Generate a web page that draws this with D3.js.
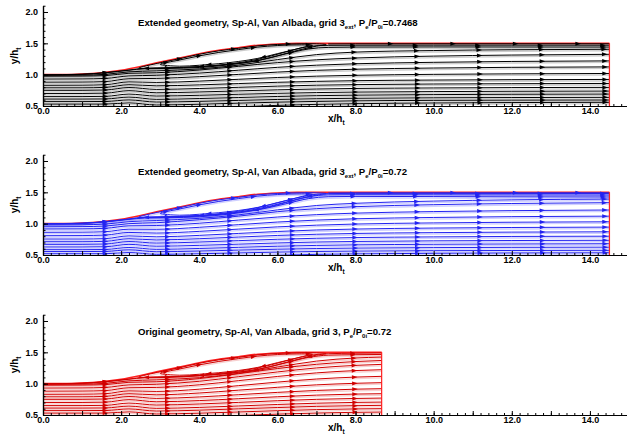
<!DOCTYPE html>
<html>
<head>
<meta charset="utf-8">
<script src="https://cdn.jsdelivr.net/npm/d3@7"></script>
<style>
  body { margin: 0; background: #fff; }
  text { font-family: "Liberation Sans", Arial, sans-serif; font-weight: bold; fill: #000; }
</style>
</head>
<body>
<svg id="chart" width="627" height="435"></svg>
<script>
// ---- axes ----
const xMajor = [0, 1, 2, 3, 4, 5, 6, 7, 8, 9, 10, 11, 12, 13, 14, 15];
const xLabelled = [0, 2, 4, 6, 8, 10, 12, 14];
const yMajor = [0.5, 1.0, 1.5, 2.0];

// ---- nozzle wall (y/ht vs x/ht) ----
const wallX = [0, 0.5, 1, 1.5, 2, 2.5, 3, 3.5, 4, 4.5, 5, 5.5, 6, 6.5];
const wallY = [1.0, 1.0, 1.008, 1.03, 1.07, 1.13, 1.2, 1.265, 1.335, 1.39, 1.43, 1.47, 1.49, 1.5];

// ---- separation bubble loops ----
const bubX = [2.45, 3.0, 3.5, 4.0, 4.5, 5.0, 5.5, 6.0, 6.5, 7.0, 7.25, 7.0, 6.5, 6.0, 5.5, 5.0, 4.5, 4.0, 3.5, 3.0];
const bubY = [1.105, 1.19, 1.255, 1.325, 1.38, 1.42, 1.46, 1.482, 1.492, 1.492, 1.48, 1.455, 1.385, 1.3, 1.225, 1.18, 1.15, 1.13, 1.115, 1.108];
const bubInX = [3.0, 3.5, 4.0, 4.5, 5.0, 5.5, 6.0, 6.5, 6.9, 6.6, 6.0, 5.5, 5.0, 4.5, 4.0, 3.5];
const bubInY = [1.165, 1.235, 1.3, 1.355, 1.4, 1.44, 1.465, 1.475, 1.468, 1.425, 1.335, 1.26, 1.21, 1.175, 1.15, 1.135];

// ---- panel 1 : extended geometry, Pe/P0i = 0.7468 ----
const st1 = [0, 1.0, 1.6, 2.2, 2.9, 4, 5, 6, 7, 8, 10, 12, 14.5];
const lines1 = [
  [0.45, 0.45, 0.45, 0.465, 0.45, 0.466, 0.488, 0.51, 0.526, 0.537, 0.548, 0.555, 0.559],
  [0.53, 0.53, 0.53, 0.55, 0.516, 0.528, 0.545, 0.561, 0.573, 0.582, 0.59, 0.593, 0.595],
  [0.57, 0.57, 0.572, 0.597, 0.563, 0.574, 0.589, 0.604, 0.616, 0.623, 0.631, 0.635, 0.638],
  [0.61, 0.61, 0.612, 0.642, 0.606, 0.619, 0.635, 0.652, 0.665, 0.673, 0.682, 0.687, 0.69],
  [0.65, 0.65, 0.654, 0.69, 0.659, 0.671, 0.687, 0.702, 0.714, 0.722, 0.73, 0.735, 0.738],
  [0.70, 0.70, 0.705, 0.745, 0.711, 0.724, 0.741, 0.758, 0.771, 0.78, 0.788, 0.794, 0.797],
  [0.75, 0.75, 0.755, 0.795, 0.765, 0.779, 0.798, 0.817, 0.832, 0.841, 0.851, 0.856, 0.86],
  [0.79, 0.79, 0.797, 0.84, 0.822, 0.837, 0.858, 0.878, 0.893, 0.904, 0.914, 0.92, 0.924],
  [0.83, 0.832, 0.84, 0.885, 0.876, 0.897, 0.926, 0.955, 0.976, 0.99, 1.005, 1.013, 1.019],
  [0.88, 0.882, 0.89, 0.935, 0.94, 0.968, 1.004, 1.041, 1.069, 1.087, 1.106, 1.117, 1.124],
  [0.93, 0.932, 0.94, 0.98, 0.99, 1.025, 1.071, 1.117, 1.151, 1.174, 1.197, 1.211, 1.22],
  [0.976, 0.978, 0.985, 1.022, 1.03, 1.074, 1.133, 1.192, 1.237, 1.266, 1.296, 1.313, 1.325],
  [0.99, 0.993, 1.005, 1.045, 1.06, 1.092, 1.152, 1.24, 1.32, 1.36, 1.385, 1.398, 1.405]
];
const shearX1 = [0, 1, 1.6, 2.2, 2.6, 3.2, 4, 4.8, 5.5, 6.2, 6.8, 7.3, 8, 10, 12, 14.5];
const shear1 = [
  [0.995, 1.005, 1.03, 1.07, 1.095, 1.1, 1.115, 1.16, 1.225, 1.33, 1.41, 1.435, 1.44, 1.442, 1.441, 1.44],
  [0.998, 1.008, 1.033, 1.074, 1.102, 1.108, 1.125, 1.172, 1.245, 1.36, 1.45, 1.468, 1.47, 1.471, 1.471, 1.47]
];

// ---- panel 2 : extended geometry, Pe/P0i = 0.72 ----
const st2 = [0, 1.0, 1.6, 2.2, 2.9, 4, 5, 6, 7, 8, 10, 12, 14.5];
const lines2 = [
  [0.45, 0.45, 0.45, 0.465, 0.45, 0.463, 0.48, 0.497, 0.51, 0.518, 0.527, 0.532, 0.535],
  [0.52, 0.52, 0.52, 0.54, 0.51, 0.52, 0.533, 0.546, 0.556, 0.562, 0.569, 0.572, 0.575],
  [0.555, 0.555, 0.557, 0.582, 0.552, 0.563, 0.578, 0.592, 0.603, 0.61, 0.618, 0.622, 0.625],
  [0.585, 0.585, 0.588, 0.62, 0.59, 0.604, 0.622, 0.64, 0.653, 0.662, 0.671, 0.676, 0.68],
  [0.628, 0.628, 0.632, 0.67, 0.64, 0.654, 0.673, 0.692, 0.707, 0.716, 0.726, 0.731, 0.735],
  [0.67, 0.67, 0.675, 0.715, 0.69, 0.707, 0.729, 0.751, 0.767, 0.778, 0.789, 0.796, 0.8],
  [0.712, 0.712, 0.718, 0.76, 0.74, 0.76, 0.786, 0.812, 0.831, 0.844, 0.857, 0.865, 0.87],
  [0.755, 0.755, 0.762, 0.805, 0.79, 0.813, 0.844, 0.875, 0.899, 0.914, 0.93, 0.939, 0.945],
  [0.808, 0.81, 0.818, 0.86, 0.85, 0.877, 0.913, 0.949, 0.976, 0.994, 1.012, 1.023, 1.03],
  [0.862, 0.864, 0.872, 0.912, 0.91, 0.942, 0.984, 1.026, 1.057, 1.078, 1.099, 1.112, 1.12],
  [0.915, 0.917, 0.926, 0.965, 0.97, 1.007, 1.057, 1.106, 1.144, 1.168, 1.193, 1.208, 1.218],
  [0.95, 0.953, 0.962, 1.0, 1.015, 1.063, 1.12, 1.191, 1.239, 1.271, 1.303, 1.322, 1.335],
  [0.98, 0.983, 0.993, 1.032, 1.05, 1.085, 1.14, 1.22, 1.29, 1.325, 1.36, 1.38, 1.392]
];
const shearX2 = [0, 1, 1.6, 2.2, 2.6, 3.2, 4, 4.8, 5.5, 6.2, 6.8, 7.3, 8, 10, 12, 14.5];
const shear2 = [
  [0.993, 1.003, 1.028, 1.068, 1.09, 1.095, 1.11, 1.155, 1.22, 1.315, 1.4, 1.43, 1.435, 1.432, 1.428, 1.425],
  [0.996, 1.006, 1.031, 1.072, 1.098, 1.103, 1.12, 1.167, 1.238, 1.34, 1.43, 1.46, 1.462, 1.46, 1.458, 1.456],
  [0.999, 1.009, 1.034, 1.076, 1.105, 1.11, 1.13, 1.18, 1.255, 1.365, 1.455, 1.48, 1.483, 1.483, 1.482, 1.482]
];

// ---- panel 3 : original geometry, Pe/P0i = 0.72 ----
const st3 = [0, 1.0, 1.6, 2.2, 2.9, 4, 5, 6, 7, 8, 8.67];
const lines3 = [
  [0.46, 0.46, 0.46, 0.475, 0.46, 0.473, 0.493, 0.514, 0.531, 0.543, 0.547],
  [0.53, 0.53, 0.53, 0.55, 0.516, 0.529, 0.548, 0.569, 0.586, 0.597, 0.601],
  [0.57, 0.57, 0.572, 0.597, 0.563, 0.577, 0.598, 0.619, 0.638, 0.649, 0.654],
  [0.61, 0.61, 0.612, 0.642, 0.606, 0.621, 0.644, 0.668, 0.688, 0.701, 0.706],
  [0.65, 0.65, 0.654, 0.69, 0.659, 0.676, 0.701, 0.728, 0.75, 0.764, 0.77],
  [0.70, 0.70, 0.705, 0.745, 0.711, 0.73, 0.76, 0.791, 0.817, 0.834, 0.84],
  [0.75, 0.75, 0.755, 0.795, 0.765, 0.788, 0.824, 0.861, 0.892, 0.912, 0.92],
  [0.79, 0.79, 0.797, 0.84, 0.822, 0.851, 0.896, 0.942, 0.981, 1.006, 1.016],
  [0.83, 0.832, 0.84, 0.885, 0.876, 0.912, 0.968, 1.025, 1.074, 1.105, 1.117],
  [0.88, 0.882, 0.89, 0.935, 0.94, 0.982, 1.048, 1.115, 1.172, 1.209, 1.223],
  [0.93, 0.932, 0.94, 0.98, 0.99, 1.038, 1.111, 1.187, 1.251, 1.292, 1.308],
  [0.976, 0.978, 0.985, 1.022, 1.03, 1.081, 1.159, 1.241, 1.309, 1.353, 1.37],
  [0.99, 0.993, 1.005, 1.045, 1.06, 1.095, 1.165, 1.265, 1.36, 1.41, 1.424]
];
const shearX3 = [0, 1, 1.6, 2.2, 2.6, 3.2, 4, 4.8, 5.5, 6.2, 6.8, 7.3, 8, 8.67];
const shear3 = [
  [0.995, 1.005, 1.03, 1.07, 1.095, 1.1, 1.125, 1.17, 1.23, 1.33, 1.42, 1.455, 1.462, 1.466],
  [0.998, 1.008, 1.033, 1.074, 1.102, 1.108, 1.135, 1.183, 1.25, 1.36, 1.45, 1.478, 1.486, 1.49]
];

// near-wall streamline after reattachment (extended geometry)
const topX = [7.3, 8, 10, 12, 14.5];
const topY = [1.49, 1.492, 1.493, 1.493, 1.493];

const titles = [
  ["Extended geometry, Sp-Al, Van Albada, grid 3", "ext", ", P", "e", "/P", "0i", "=0.7468"],
  ["Extended geometry, Sp-Al, Van Albada, grid 3", "ext", ", P", "e", "/P", "0i", "=0.72"],
  ["Original geometry, Sp-Al, Van Albada, grid 3", "", ", P", "e", "/P", "0i", "=0.72"]
];

const panels = [
  { bottom: 106, color: "#000", light: "#9a9a9a", outlet: 14.5, st: st1, lines: lines1, shearX: shearX1, shear: shear1, title: titles[0] },
  { bottom: 255, color: "#2323f0", light: "#a0a0ff", outlet: 14.5, st: st2, lines: lines2, shearX: shearX2, shear: shear2, title: titles[1] },
  { bottom: 415, color: "#d00000", light: "#f0a0a0", outlet: 8.67, st: st3, lines: lines3, shearX: shearX3, shear: shear3, title: titles[2] }
];

const svg = d3.select("#chart");
const pxPerUnit = 62.67;
const x = d3.scaleLinear().domain([0, 15]).range([43, 629]);

panels.forEach((p, pi) => {
  const y = d3.scaleLinear().domain([0.5, 2.1]).range([p.bottom, p.bottom - 1.6 * pxPerUnit]);
  const g = svg.append("g");

  // clip to plot area
  const clipId = "clip" + pi;
  svg.append("clipPath").attr("id", clipId).append("rect")
    .attr("x", x(0)).attr("y", y(2.1))
    .attr("width", x(p.outlet) - x(0) + 1).attr("height", y(0.5) - y(2.1));
  const plot = g.append("g").attr("clip-path", `url(#${clipId})`);

  const line = d3.line().x(d => x(d[0])).y(d => y(d[1])).curve(d3.curveMonotoneX);
  const loop = d3.line().x(d => x(d[0])).y(d => y(d[1])).curve(d3.curveCatmullRomClosed);

  // geometry (red)
  const wallPts = wallX.map((v, i) => [v, wallY[i]]).concat([[p.outlet, 1.5]]);
  plot.append("path").attr("d", line(wallPts))
    .attr("fill", "none").attr("stroke", "#ff2020").attr("stroke-width", 1.6);

  const paths = [];
  p.lines.forEach(ys => paths.push(line(p.st.map((s, i) => [s, ys[i]]))));
  p.shear.forEach(ys => paths.push(line(p.shearX.map((s, i) => [s, ys[i]]))));
  if (p.outlet > 9) paths.push(line(topX.map((v, i) => [v, topY[i]])));
  const loops = [
    loop(bubX.map((v, i) => [v, bubY[i]])),
    loop(bubInX.map((v, i) => [v, bubInY[i]]))
  ];

  // light antialias bands beside each line
  paths.concat(loops).forEach(d => {
    plot.append("path").attr("d", d).attr("fill", "none")
      .attr("stroke", p.light).attr("stroke-width", 1.4).attr("opacity", 0.5)
      .attr("transform", "translate(0,1.5)");
  });
  paths.concat(loops).forEach(d => {
    plot.append("path").attr("d", d).attr("fill", "none")
      .attr("stroke", p.color).attr("stroke-width", 1.0);
  });

  // arrowheads along each streamline
  const arrowG = plot.append("g").attr("fill", p.color);
  const placeArrows = (d, step, start) => {
    const tmp = plot.append("path").attr("d", d).attr("fill", "none").attr("stroke", "none");
    const node = tmp.node();
    const L = node.getTotalLength();
    for (let l = start; l < L - 1; l += step) {
      const a = node.getPointAtLength(l - 1), b = node.getPointAtLength(l + 1);
      const ang = Math.atan2(b.y - a.y, b.x - a.x) * 180 / Math.PI;
      const c = node.getPointAtLength(l);
      arrowG.append("path").attr("d", "M-2.8,-2L2.8,0L-2.8,2Z")
        .attr("transform", `translate(${c.x},${c.y}) rotate(${ang})`);
    }
    tmp.remove();
  };
  paths.forEach(d => placeArrows(d, 62.5, 62.5));
  loops.forEach(d => placeArrows(d, 55, 20));

  // outlet boundary (red)
  plot.append("line").attr("x1", x(p.outlet)).attr("x2", x(p.outlet))
    .attr("y1", y(1.5)).attr("y2", y(0.5))
    .attr("stroke", "#ff2020").attr("stroke-width", 1.3);

  // axes
  const minorX = d3.range(0, 15.01, 0.2);
  const minorY = d3.range(0.5, 2.101, 0.1);
  const xa = g.append("g").attr("transform", `translate(0,${p.bottom})`);
  xa.append("g").call(d3.axisBottom(x).tickValues(minorX).tickSize(-2).tickSizeOuter(0).tickFormat(""));
  xa.append("g").call(d3.axisBottom(x).tickValues(xMajor).tickSize(-4).tickSizeOuter(0).tickPadding(2)
    .tickFormat(d => xLabelled.includes(d) ? d.toFixed(1) : ""));
  const ya = g.append("g").attr("transform", `translate(${x(0)},0)`);
  ya.append("g").call(d3.axisLeft(y).tickValues(minorY).tickSize(-2.5).tickSizeOuter(0).tickFormat(""));
  ya.append("g").call(d3.axisLeft(y).tickValues(yMajor).tickSize(-5).tickSizeOuter(0).tickPadding(5)
    .tickFormat(d => d.toFixed(1)));
  g.selectAll(".domain").attr("stroke", "#000").attr("stroke-width", 1.2);
  g.selectAll(".tick line").attr("stroke", "#000");
  g.selectAll(".tick text").attr("font-size", 9).attr("font-weight", "bold")
    .attr("font-family", "Liberation Sans, Arial, sans-serif").attr("fill", "#000");

  // axis titles
  const xt = g.append("text").attr("x", 328).attr("y", p.bottom + 16).attr("font-size", 10);
  xt.append("tspan").text("x/h");
  xt.append("tspan").attr("font-size", 6.5).attr("dy", 3).text("t");
  const ytg = g.append("text").attr("transform", `translate(18,${y(1.3)}) rotate(-90)`)
    .attr("text-anchor", "middle").attr("font-size", 10);
  ytg.append("tspan").text("y/h");
  ytg.append("tspan").attr("font-size", 6.5).attr("dy", 3).text("t");

  // panel title with subscripts
  const tt = g.append("text").attr("x", 138).attr("y", y(2.1) + 20.5).attr("font-size", 9.6);
  const t = p.title;
  tt.append("tspan").text(t[0]);
  if (t[1]) tt.append("tspan").attr("font-size", 6).attr("dy", 2.5).text(t[1]);
  tt.append("tspan").attr("dy", t[1] ? -2.5 : 0).text(t[2]);
  tt.append("tspan").attr("font-size", 6).attr("dy", 2.5).text(t[3]);
  tt.append("tspan").attr("dy", -2.5).text(t[4]);
  tt.append("tspan").attr("font-size", 6).attr("dy", 2.5).text(t[5]);
  tt.append("tspan").attr("dy", -2.5).text(t[6]);
});
</script>
</body>
</html>
